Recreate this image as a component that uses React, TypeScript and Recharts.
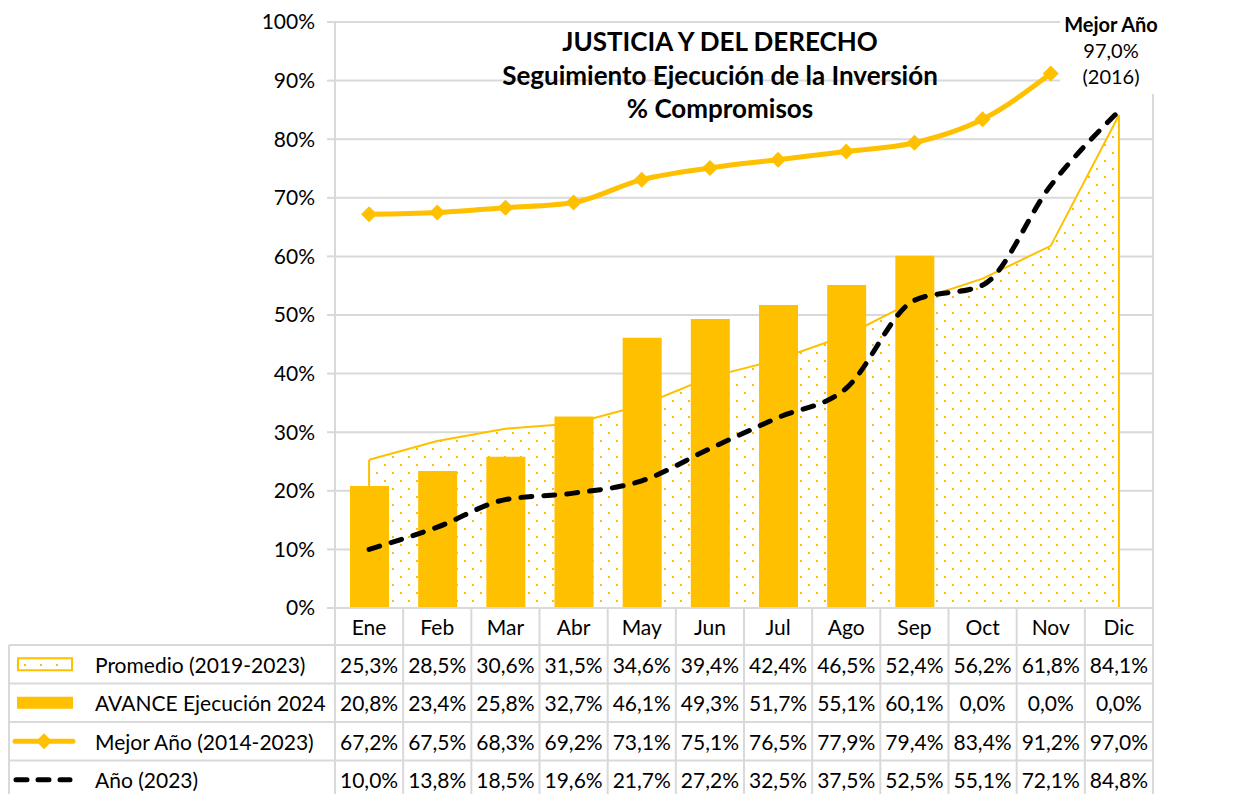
import { ComposedChart, Area, Bar, Line, XAxis, YAxis, CartesianGrid, ReferenceLine } from 'recharts';

const months = ['Ene', 'Feb', 'Mar', 'Abr', 'May', 'Jun', 'Jul', 'Ago', 'Sep', 'Oct', 'Nov', 'Dic'];
const promedio = [25.3, 28.5, 30.6, 31.5, 34.6, 39.4, 42.4, 46.5, 52.4, 56.2, 61.8, 84.1];
const avance2024 = [20.8, 23.4, 25.8, 32.7, 46.1, 49.3, 51.7, 55.1, 60.1, 0, 0, 0];
const mejorAnio = [67.2, 67.5, 68.3, 69.2, 73.1, 75.1, 76.5, 77.9, 79.4, 83.4, 91.2, 97.0];
const anio2023 = [10.0, 13.8, 18.5, 19.6, 21.7, 27.2, 32.5, 37.5, 52.5, 55.1, 72.1, 84.8];
const yTicks = [0, 10, 20, 30, 40, 50, 60, 70, 80, 90, 100];
// the best-year line is only drawn through Nov, Dic sits under the label
const mejorLineaHasta = 11;

const seriesLabels = ['Promedio (2019-2023)', 'AVANCE Ejecución 2024', 'Mejor Año (2014-2023)', 'Año (2023)'];
const tableSeries = [promedio, avance2024, mejorAnio, anio2023];

const data = months.map((mes, i) => ({
  mes,
  promedio: promedio[i],
  avance: avance2024[i],
  mejor: i < mejorLineaHasta ? mejorAnio[i] : null,
  anio: anio2023[i],
}));

const W = 1238;
const H = 794;
const PLOT_LEFT = 335;
const PLOT_RIGHT = 1153;
const PLOT_TOP = 22;
const PLOT_BOTTOM = 608;
const BAND = (PLOT_RIGHT - PLOT_LEFT) / months.length;
const HEADER_H = 37;
const ROW_H = 38.5;
const YELLOW = '#FFC000';
const GRID = '#d9d9d9';
const FONT = 'Lato, "Open Sans", sans-serif';
const TXT = 21;

const fmt = (v: number) => v.toFixed(1).replace('.', ',') + '%';

function Diamond(props: any) {
  const { cx, cy } = props;
  if (cx == null || cy == null || props.value == null) return null;
  const s = 8;
  return <path d={`M${cx},${cy - s}L${cx + s},${cy}L${cx},${cy + s}L${cx - s},${cy}Z`} fill={YELLOW} />;
}

function LegendColumn({ top }: { top: number }) {
  const rowsTop = top + HEADER_H;
  const bottom = rowsTop + ROW_H * 4;
  const mid = (r: number) => rowsTop + ROW_H * r + ROW_H / 2;
  return (
    <g>
      <line x1={9} x2={9} y1={rowsTop} y2={bottom} stroke={GRID} strokeWidth={2} />
      {[0, 1, 2, 3, 4].map((r) => (
        <line key={r} x1={9} x2={PLOT_LEFT} y1={rowsTop + ROW_H * r} y2={rowsTop + ROW_H * r} stroke={GRID} strokeWidth={2} />
      ))}
      <rect x={18} y={mid(0) - 6} width={54} height={12} fill="url(#dots)" stroke={YELLOW} strokeWidth={2} />
      <rect x={17} y={mid(1) - 6} width={56} height={12} fill={YELLOW} />
      <line x1={15} x2={73} y1={mid(2)} y2={mid(2)} stroke={YELLOW} strokeWidth={5} strokeLinecap="round" />
      <Diamond cx={44} cy={mid(2)} value={1} />
      <line x1={16} x2={70} y1={mid(3)} y2={mid(3)} stroke="#000" strokeWidth={5} strokeDasharray="11 11" strokeLinecap="round" />
      {seriesLabels.map((s, r) => (
        <text key={s} x={95} y={mid(r)} dominantBaseline="central" fontSize={TXT} fill="#000">
          {s}
        </text>
      ))}
    </g>
  );
}

function TableTick(props: any) {
  const { x, y, index, payload } = props;
  const left = x - BAND / 2;
  const right = x + BAND / 2;
  const bottom = y + HEADER_H + ROW_H * 4;
  const lines = [y, y + HEADER_H, y + HEADER_H + ROW_H, y + HEADER_H + ROW_H * 2, y + HEADER_H + ROW_H * 3, bottom];
  return (
    <g>
      {index === 0 && <LegendColumn top={y} />}
      {index === 0 && <line x1={left} x2={left} y1={y} y2={bottom} stroke={GRID} strokeWidth={2} />}
      <line x1={right} x2={right} y1={y} y2={bottom} stroke={GRID} strokeWidth={2} />
      {lines.map((ly, k) => (
        <line key={k} x1={left} x2={right} y1={ly} y2={ly} stroke={GRID} strokeWidth={2} />
      ))}
      <text x={x} y={y + HEADER_H / 2} textAnchor="middle" dominantBaseline="central" fontSize={TXT} fill="#000">
        {payload.value}
      </text>
      {tableSeries.map((serie, r) => (
        <text key={r} x={x} y={y + HEADER_H + ROW_H * r + ROW_H / 2} textAnchor="middle" dominantBaseline="central" fontSize={TXT} fill="#000">
          {fmt(serie[index])}
        </text>
      ))}
    </g>
  );
}

export default function App() {
  return (
    <div style={{ position: 'absolute', left: 0, top: 0, width: W, height: H, background: '#fff', fontFamily: FONT, overflow: 'hidden' }}>
      <ComposedChart width={W} height={H} data={data} margin={{ top: PLOT_TOP, right: 0, bottom: 0, left: 0 }}>
        <defs>
          <pattern id="dots" width={16} height={16} patternUnits="userSpaceOnUse">
            <rect width={16} height={16} fill="#fff" />
            <rect x={0} y={0} width={2} height={2} fill={YELLOW} />
            <rect x={8} y={8} width={2} height={2} fill={YELLOW} />
          </pattern>
        </defs>
        <CartesianGrid vertical={false} stroke={GRID} strokeWidth={2} yAxisId="left" />
        <XAxis
          dataKey="mes"
          height={H - PLOT_BOTTOM}
          axisLine={false}
          tickLine={false}
          tickSize={0}
          tickMargin={0}
          interval={0}
          tick={<TableTick />}
        />
        <YAxis
          yAxisId="left"
          width={PLOT_LEFT}
          domain={[0, 100]}
          ticks={yTicks}
          tickFormatter={(v) => `${v}%`}
          axisLine={{ stroke: GRID, strokeWidth: 2 }}
          tickLine={{ stroke: GRID, strokeWidth: 2 }}
          tickSize={8}
          tickMargin={12}
          tick={{ fill: '#000', fontSize: TXT }}
        />
        <YAxis
          yAxisId="right"
          orientation="right"
          width={W - PLOT_RIGHT}
          domain={[0, 100]}
          ticks={yTicks}
          tickFormatter={(v) => `${v}%`}
          axisLine={{ stroke: GRID, strokeWidth: 2 }}
          tickLine={{ stroke: GRID, strokeWidth: 2 }}
          tickSize={8}
          tickMargin={14}
          tick={{ fill: '#000', fontSize: TXT, textAnchor: 'start' }}
        />
        <Area
          yAxisId="left"
          dataKey="promedio"
          type="linear"
          fill="url(#dots)"
          fillOpacity={1}
          stroke={YELLOW}
          strokeWidth={2}
          isAnimationActive={false}
        />
        <ReferenceLine
          yAxisId="left"
          segment={[{ x: months[0], y: 0 }, { x: months[0], y: promedio[0] }]}
          stroke={YELLOW}
          strokeWidth={2}
        />
        <ReferenceLine
          yAxisId="left"
          segment={[{ x: months[months.length - 1], y: 0 }, { x: months[months.length - 1], y: promedio[promedio.length - 1] }]}
          stroke={YELLOW}
          strokeWidth={2}
        />
        <Bar yAxisId="left" dataKey="avance" fill={YELLOW} barSize={39} isAnimationActive={false} />
        <Line
          yAxisId="left"
          dataKey="anio"
          type="monotone"
          stroke="#000"
          strokeWidth={5}
          strokeDasharray="11 12"
          strokeLinecap="round"
          dot={false}
          isAnimationActive={false}
        />
        <Line
          yAxisId="left"
          dataKey="mejor"
          type="monotone"
          stroke={YELLOW}
          strokeWidth={5}
          dot={<Diamond />}
          activeDot={false}
          connectNulls={false}
          isAnimationActive={false}
        />
      </ComposedChart>
      <div style={{ position: 'absolute', left: 420, top: 25, width: 600, textAlign: 'center', fontWeight: 700, fontSize: 26, lineHeight: '33.5px', color: '#000' }}>
        <div>JUSTICIA Y DEL DERECHO</div>
        <div>Seguimiento Ejecución de la Inversión</div>
        <div>% Compromisos</div>
      </div>
      <div style={{ position: 'absolute', left: 1060, top: 0, width: 102, height: 94, background: '#fff', textAlign: 'center', fontSize: 20, lineHeight: '26px', color: '#000', paddingTop: 11, boxSizing: 'border-box' }}>
        <div style={{ fontWeight: 700 }}>Mejor Año</div>
        <div>{fmt(mejorAnio[mejorAnio.length - 1])}</div>
        <div>(2016)</div>
      </div>
    </div>
  );
}
